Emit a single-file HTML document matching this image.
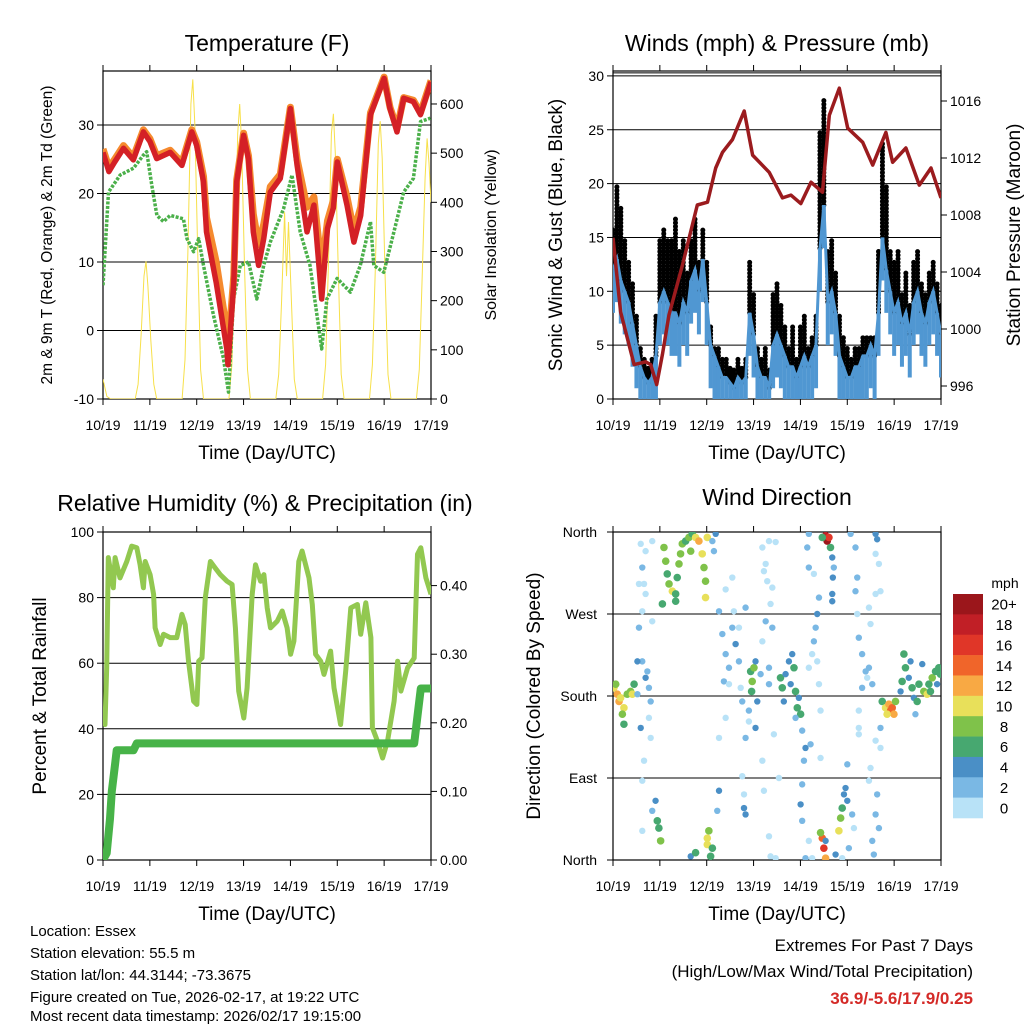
<!DOCTYPE html>
<html><head><meta charset="utf-8"><style>
body{margin:0;background:#fff;}
svg{display:block;font-family:"Liberation Sans",sans-serif;}
</style></head><body>
<svg id="chart" width="1024" height="1024" viewBox="0 0 1024 1024" xmlns="http://www.w3.org/2000/svg">
<defs>
<clipPath id="c1"><rect x="103" y="71" width="328" height="328"/></clipPath>
<clipPath id="c2"><rect x="613" y="71" width="328" height="328"/></clipPath>
<clipPath id="c3"><rect x="103" y="532" width="328" height="328"/></clipPath>
<clipPath id="c4"><rect x="613" y="532" width="328" height="328"/></clipPath>
</defs>
<g id="g1"></g>
<g id="g2"></g>
<g id="g3"></g>
<g id="g4"></g>
<g font-size="23" text-anchor="middle">
<text x="267" y="51">Temperature (F)</text>
<text x="777" y="51">Winds (mph) &amp; Pressure (mb)</text>
<text x="265" y="511">Relative Humidity (%) &amp; Precipitation (in)</text>
<text x="777" y="505">Wind Direction</text>
</g>
<g font-size="19" text-anchor="middle">
<text x="267" y="459">Time (Day/UTC)</text>
<text x="777" y="459">Time (Day/UTC)</text>
<text x="267" y="920">Time (Day/UTC)</text>
<text x="777" y="920">Time (Day/UTC)</text>
</g>
<g text-anchor="middle">
<text transform="translate(52,235) rotate(-90)" font-size="15.5">2m &amp; 9m T (Red, Orange) &amp; 2m Td (Green)</text>
<text transform="translate(496,235) rotate(-90)" font-size="16">Solar Insolation (Yellow)</text>
<text transform="translate(562,235) rotate(-90)" font-size="19">Sonic Wind &amp; Gust (Blue, Black)</text>
<text transform="translate(1020,235) rotate(-90)" font-size="19">Station Pressure (Maroon)</text>
<text transform="translate(46,696) rotate(-90)" font-size="19">Percent &amp; Total Rainfall</text>
<text transform="translate(540,696) rotate(-90)" font-size="19">Direction (Colored By Speed)</text>
</g>
<g font-size="15">
<text x="30" y="936">Location: Essex</text>
<text x="30" y="958">Station elevation: 55.5 m</text>
<text x="30" y="980">Station lat/lon: 44.3144; -73.3675</text>
<text x="30" y="1002">Figure created on Tue, 2026-02-17, at 19:22 UTC</text>
<text x="30" y="1024" dy="-3">Most recent data timestamp: 2026/02/17 19:15:00</text>
</g>
<g text-anchor="end">
<text x="973" y="951" font-size="17">Extremes For Past 7 Days</text>
<text x="973" y="977" font-size="17">(High/Low/Max Wind/Total Precipitation)</text>
<text x="973" y="1004" font-size="17" font-weight="bold" fill="#d42a27">36.9/-5.6/17.9/0.25</text>
</g>
<g id="cbar"></g>
</svg>
<script>
const dayLabels=["10/19","11/19","12/19","13/19","14/19","15/19","16/19","17/19"];
const tempTicks=[-10,0,10,20,30];
const solarTicks=[0,100,200,300,400,500,600];
const windTicks=[0,5,10,15,20,25,30];
const presTicks=[996,1000,1004,1008,1012,1016];
const rhTicks=[0,20,40,60,80,100];
const precTicks=[0,0.1,0.2,0.3,0.4];
const dirTickVals=[0,90,180,270,360];
const dirTickNames=["North","East","South","West","North"];

const redHours=[0,3,6,10.5,15.5,20.7,24,27.5,34.4,40.4,45.5,48,51.5,53,58,63.4,64,67,68.5,72,74.5,77,79.7,82.3,85.7,90.8,96,99.4,104.5,108,112,115,118,120,125,128.5,132,137,144,147,150.6,154,159,162.6,168];
const redTemps=[26,23.2,24.6,26.6,24.9,29,27.6,25.1,26,24.1,29,27,21.7,14.4,7,-2.7,-5,7,21.7,28.5,25,14.4,9.5,13.4,20.2,22.2,32.4,24.1,14.4,18.3,4.6,14.9,17.9,24.6,18.3,12.9,16.8,31.5,36.8,32.4,29,33.9,33.4,31.5,36.3];
const orangeHours=[0,3,6,10.5,15.5,20.7,24,27.5,34.4,40.4,45.5,48,51.5,53,58,63.4,64,67,68.5,72,74.5,77,79.7,82.3,85.7,90.8,96,99.4,104.5,108,112,115,118,120,125,128.5,132,137,144,147,150.6,154,159,162.6,168];
const orangeTemps=[26.5,23.8,25,27,25.3,29.3,28,25.5,26.3,24.5,29.3,27.5,22.5,16.5,10,0,-3,8,22,28.8,25.5,17,12.5,15.5,21,22.8,32.6,25,18,19.5,9,16,19,25,19.5,14.5,18,31.8,37,32.6,29.5,34,33.6,31.8,36.5];
const tdHours=[0,2.8,8.8,15.6,20.7,22.4,25,27.6,31,34.4,41.2,43,46.4,49,51.5,56.6,61.7,64.3,66.9,70.3,74.6,78.8,82.3,85.7,92.5,96.8,101,106,112,114.7,119.9,126.7,131.8,137,138.7,143.8,149,154,159,162.6,167.7];
const tdTemps=[6.6,20.2,22.7,23.7,25.6,26.1,21.2,16.8,15.9,16.8,16.3,13.4,11.5,13.4,9.5,2.2,-4.1,-9,4.6,9.5,10,4.6,9.5,12.9,17.8,22.7,14.4,9.5,-2.7,4.6,7.6,5.6,9.5,15.9,9.5,8.5,14.4,20.2,22.2,30.5,31];
const solarHours=[0,2,4,16.5,18,19.5,21,22,23,24.5,26,27.5,40.5,42,43.5,45,46,47,48.5,50,51.5,64.5,66,67.5,69,70,71,72.5,74,75.5,88.5,90,91.5,93,94,95,96.5,98,99.5,112.5,114,115.5,117,118,119,120.5,122,123.5,136.5,138,139.5,141,142,143,144.5,146,147.5,160.5,162,163.5,165,166,167,168];
const solarVals=[40,5,0,0,30,130,250,280,230,120,30,0,0,80,300,600,650,560,300,60,0,0,70,280,540,600,520,270,60,0,0,50,200,380,250,360,200,40,0,0,70,280,540,580,500,260,50,0,0,70,270,520,565,490,250,50,0,0,60,250,450,530,480,400];

const presHours=[0,3.9,10.8,16.7,19.3,22.4,25.3,28.7,35.6,43.2,48.4,52.6,56.1,61.2,67.2,71.5,80,86.8,91.1,96.2,101.4,107.3,110.8,115.9,120.2,127.9,133,139.8,143.2,150,156.9,162.9,168];
const presVals=[1006.4,1001.2,997.5,997.7,997.5,996.1,998.2,1001,1004.5,1008.7,1008.9,1011.3,1012.4,1013.3,1015.3,1012.2,1011,1009.2,1009.4,1008.8,1010.3,1009.6,1015,1016.9,1014.1,1013.1,1011.5,1013.8,1011.7,1012.7,1010.1,1011.3,1009.2];
const windHours=[0,2,4,6,8,10,12,14,16,18,20,22,24,26,28,30,32,34,36,38,40,42,44,46,48,50,52,54,56,58,60,62,64,66,68,70,72,74,76,78,80,82,84,86,88,90,92,94,96,98,100,102,104,106,108,110,112,114,116,118,120,122,124,126,128,130,132,134,136,138,140,142,144,146,148,150,152,154,156,158,160,162,164,166,168];
const windVals=[12,13,11,10,9,7,5,3,2,1.5,2,4,9,10,9,8,8,7,9,8,11,12,10,13,9,5,4,3,2,2,1.5,1,2,1.5,2,8,6,3,2,2,1,5,6,5,4,3,3,2,3,4,3,4,5,14,18,9,10,8,4,3,2,2,3,3,4,4,5,4,8,15,12,10,8,9,7,8,6,9,10,8,7,9,10,8,6];
const gustVals=[16,20,18,15,13,11,8,5,4,3,4,8,15,16,15,15,17,14,15,12,15,17,13,16,13,7,5,5,4,4,3,3,4,3,4,13,10,5,4,5,3,10,11,9,7,5,7,4,7,8,5,6,8,25,28,14,15,12,8,6,5,4,5,5,6,6,6,6,14,24,20,14,13,14,10,12,9,13,14,11,10,12,13,11,9];

const rhHours=[0,1,1.9,2.7,5.3,6.2,8.7,12.2,14.7,17.3,19,20.7,21.6,24.1,25.9,26.7,29.3,31,34.4,37.8,40.4,42.1,43.8,46.4,48.1,49,50.7,52.4,55,57.5,60.1,63.5,66.1,67.8,69.5,72.1,73.8,76.4,78.1,80.7,82.4,84.1,85.8,89.2,91.8,94.3,96.1,97.8,100.3,102,105.5,107.2,108.9,111.5,113.2,116.6,118.3,121.7,124.3,126.9,130.3,132,134.6,137.2,138,140.6,143.2,145.7,149.1,150.9,152.6,156,159.4,161.1,162.8,165.4,168];
const rhVals=[45.4,41.3,58.6,92.2,83,92.2,86,91,95.7,95.2,90,83,91,87,81,70.8,65.7,68.8,67.8,67.8,74.9,71.8,60.6,48.4,47.4,60.6,61.6,80,91,89,87,85,84,70.8,51.5,43.3,52.5,81,90,85,87,76.9,70.8,72.8,75.9,70.8,62.7,66.7,91,94.2,86,77.9,62.7,60.6,56.6,63.7,52.5,41.3,57.6,76.9,77.9,68.8,78.4,67.8,40.3,36.2,31.1,36.2,48.4,60.6,51.5,58.6,61.6,93.2,95.2,86,81];
const precHours=[0,1.9,3.6,4.5,6.2,7,15.6,17.3,25.9,159.4,161.1,162.8,168];
const precVals=[0,0.01,0.06,0.1,0.14,0.16,0.16,0.17,0.17,0.17,0.21,0.25,0.25];

const dirHours=[0.5,1.4,2.2,3.1,3.9,5.6,7.3,9,10.8,5.6,4.8,9.9,
13.3,15,16.7,12.5,18.4,14.2,18.4,19.3,15.9,15,13.3,15.9,15,14.2,20.1,16.7,20.1,12.5,17.6,19.3,15,16.7,
26.1,27,27.8,28.7,30.4,32.1,32.9,33.8,34.6,35.5,37.2,38.9,40.6,42.3,44,45.7,46.6,47.4,47.4,25.3,32.1,48.3,39.8,
21.8,23.5,24.4,22.7,20.1,15,39.8,42.3,49.1,48.3,50,50.9,48.3,
52.6,50.9,51.7,54.3,56,57.7,59.4,61.1,62.8,64.5,56.8,59.4,64.5,61.9,65.4,54.3,57.7,53.4,54.3,61.1,57.7,66.2,67.9,69.6,67.9,67.1,67.9,66.2,67.1,
70.5,71.3,71,72.2,73,73.9,73,69.6,
76.5,78.2,79.9,81.6,75.6,79.9,80.7,82.4,83.3,79.9,77.3,81.6,76.5,78.2,79,76.5,77.3,80.7,79.9,85,83.3,
85.8,86.7,88.4,90.1,91,92.7,93.5,94.4,96.1,91.8,87.5,93.5,95.2,
96.9,98.6,97.8,96.9,96.1,96.9,100.3,98.6,102,100.3,102,103.8,104.6,105.5,102.9,100.3,99.5,100.3,102.9,104.6,105.5,106.3,106.3,101.2,
108.9,109.7,110.6,111.4,112.3,113.1,112.6,112.3,112.3,107.2,
107.2,108,108.9,106.3,108.9,114,115.7,116.6,117.4,118.3,119.1,120,120,122.5,123.4,117.4,120.8,
121.7,124.2,125.1,124.2,125.1,125.9,127.6,129.4,127.6,125.9,125.9,131.9,131.1,130.2,131.9,131.1,131.1,132.8,132.8,133.6,134.5,135.3,136.2,134.5,135.3,134.5,136.2,134.5,137,
137.9,139.6,141.3,142.2,143,143.9,144.7,140.4,137,134.5,137,125.9,
147.3,149,149.8,151.5,153.2,154.1,154.9,156.7,158.4,159.2,160.9,161.8,163.5,165.2,166.9,162.6,166,167.7,148.1,152.4,155.8];
const dirDegs=[189,193,182,174,178,167,182,185,193,149,160,182,
255,218,200,182,189,145,156,134,109,273,303,303,321,347,350,339,262,218,207,174,87,292,
343,328,314,303,295,292,310,325,336,347,350,354,358,354,350,336,321,306,288,281,284,354,339,
65,35,21,43,54,32,4,8,32,17,4,13,24,
358,350,339,273,248,226,211,255,237,218,196,193,255,273,189,134,156,54,76,310,297,174,277,164,134,57,50,92,72,
207,196,185,211,218,174,145,152,
240,262,211,255,204,193,281,138,349,350,317,299,343,325,306,109,76,4,26,90,2,
200,189,204,218,193,211,185,167,160,226,174,156,178,
142,123,109,83,61,43,21,2,2,211,226,255,270,288,314,321,343,358,240,218,193,164,112,127,
356,350,354,343,332,321,310,292,284,354,
24,13,2,30,21,6,32,46,57,72,79,65,105,50,35,2,13,
358,343,310,295,270,244,226,207,189,164,138,101,87,200,259,277,211,193,21,6,50,72,35,358,352,336,325,292,295,
174,167,171,164,167,160,174,160,145,131,123,145,
185,226,211,200,189,178,160,193,215,185,182,193,200,207,211,185,193,204,196,218,174];
const dirSpeeds=[10,8,13,12,11,10,9,8,6,6,9,10,
2,3,4,3,2,4,1,1,0,1,0,1,2,1,0,0,0,4,3,2,0,0,
8,9,7,8,10,6,7,8,9,8,6,9,7,11,12,10,9,8,10,6,6,10,8,
4,7,9,6,3,1,5,6,9,10,7,7,11,
4,3,2,2,3,3,2,2,4,3,2,1,1,1,1,1,1,2,4,1,1,2,3,3,2,4,4,1,1,
7,8,7,8,5,4,4,1,
1,2,3,3,2,2,1,1,1,1,1,1,1,1,0,0,0,0,0,0,0,
6,7,4,4,5,7,6,7,6,5,5,3,4,
3,4,3,3,4,3,1,2,1,1,1,3,4,2,1,2,2,2,2,1,1,1,1,3,
18,20,16,6,4,3,4,4,4,7,
14,16,13,8,5,4,10,8,7,4,4,4,3,2,1,1,2,
3,2,2,2,1,2,3,3,2,1,1,1,0,1,1,1,2,3,3,3,3,2,2,4,4,1,1,1,0,
7,10,13,15,14,12,9,11,2,1,1,0,
5,6,7,4,7,5,3,6,4,9,10,7,8,6,7,6,4,6,6,5,6];
const speedBinLabels=["0","2","4","6","8","10","12","14","16","18","20+"];
const speedColors=["#b8e2f7","#7ab8e4","#4a8fc6","#47a870","#7fc24a","#e8e05a","#f8a944","#f0652a","#e03628","#c11f26","#9b161b"];

const NS="http://www.w3.org/2000/svg";
function mk(parent,tag,attrs){const e=document.createElementNS(NS,tag);for(const k in attrs)e.setAttribute(k,attrs[k]);parent.appendChild(e);return e;}
function txt(parent,x,y,s,size,anchor){const t=mk(parent,"text",{x:x,y:y,"font-size":size,"text-anchor":anchor});t.textContent=s;return t;}

function panel(g,X0,Y0,clipId){
  const W=328,H=328;
  const xs=h=>X0+h*W/168;
  const frame=mk(g,"rect",{x:X0,y:Y0,width:W,height:H,fill:"none",stroke:"#000","stroke-width":1.2});
  
  
  dayLabels.forEach((d,i)=>{
    const x=xs(i*24);
    mk(g,"line",{x1:x,y1:Y0+H,x2:x,y2:Y0+H+6,stroke:"#000"});
    mk(g,"line",{x1:x,y1:Y0,x2:x,y2:Y0-6,stroke:"#000"});
    const t=txt(g,x,Y0+H+31,d,14,"middle");
    
    
  });
  const data=mk(g,"g",{"clip-path":"url(#"+clipId+")"});
  return {xs,data};
}
function hgrid(g,X0,y){mk(g,"line",{x1:X0,y1:y,x2:X0+328,y2:y,stroke:"#000","stroke-width":1});}
function leftTicks(g,X0,vals,ys,fmt){vals.forEach(v=>{const y=ys(v);mk(g,"line",{x1:X0,y1:y,x2:X0-6,y2:y,stroke:"#000"});const t=txt(g,X0-9,y+5,fmt(v),14,"end");});}
function rightTicks(g,X1,vals,ys,fmt){vals.forEach(v=>{const y=ys(v);mk(g,"line",{x1:X1,y1:y,x2:X1+6,y2:y,stroke:"#000"});const t=txt(g,X1+9,y+5,fmt(v),14,"start");});}
function pts(hs,vs,xs,ys){return hs.map((h,i)=>xs(h).toFixed(1)+","+ys(vs[i]).toFixed(1)).join(" ");}

// Panel 1
(function(){
  const g=document.getElementById("g1");
  const yT=t=>399-(t+10)*6.85, yS=s=>399-s*0.4917;
  [0,10,20,30].forEach(v=>hgrid(g,103,yT(v)));
  const p=panel(g,103,71,"c1");
  const sl=mk(p.data,"polyline",{points:pts(solarHours,solarVals,p.xs,yS),fill:"none",stroke:"#f7e04a","stroke-width":1});
  
  
  const td=mk(p.data,"polyline",{points:pts(tdHours,tdTemps,p.xs,yT),fill:"none",stroke:"#4bb04a","stroke-width":3.5,"stroke-dasharray":"3 1.5","stroke-linejoin":"round"});
  
  
  const or=mk(p.data,"polyline",{points:pts(orangeHours,orangeTemps,p.xs,yT),fill:"none",stroke:"#f58a2e","stroke-width":7,"stroke-linejoin":"round"});
  
  
  const rd=mk(p.data,"polyline",{points:pts(redHours,redTemps,p.xs,yT),fill:"none",stroke:"#d42026","stroke-width":5.5,"stroke-linejoin":"round"});
  
  
  leftTicks(g,103,tempTicks,yT,v=>String(v));
  rightTicks(g,431,solarTicks,yS,v=>String(v));
})();

// Panel 2
(function(){
  const g=document.getElementById("g2");
  const yW=w=>399-w*10.77, yP=v=>329-(v-1000)*14.25;
  [5,10,15,20,25].forEach(v=>hgrid(g,613,yW(v)));
  hgrid(g,613,yW(30)); hgrid(g,613,yW(30)-3);
  const p=panel(g,613,71,"c2");
  windHours.forEach((h,i)=>{
    const x=p.xs(h);
    const gl=mk(p.data,"line",{x1:x,y1:yW(windVals[i]),x2:x,y2:yW(gustVals[i]),stroke:"#000","stroke-width":5,"stroke-linecap":"round","stroke-dasharray":"0.1 3.5"});
    
    
  });
  windHours.forEach((h,i)=>{
    const x=p.xs(h);
    const wl=mk(p.data,"line",{x1:x,y1:yW(Math.max(0,windVals[i]-4)),x2:x,y2:yW(windVals[i]),stroke:"#5097d2","stroke-width":4});
    
    
  });
  const wp=mk(p.data,"polyline",{points:pts(windHours,windVals,p.xs,yW),fill:"none",stroke:"#5097d2","stroke-width":3});
  
  
  const pl=mk(p.data,"polyline",{points:pts(presHours,presVals,p.xs,yP),fill:"none",stroke:"#9b1b1e","stroke-width":3.5,"stroke-linejoin":"round"});
  
  
  leftTicks(g,613,windTicks,yW,v=>String(v));
  rightTicks(g,941,presTicks,yP,v=>String(v));
})();

// Panel 3
(function(){
  const g=document.getElementById("g3");
  const yR=r=>860-r*3.28, yPr=v=>860-v*686;
  [20,40,60,80].forEach(v=>hgrid(g,103,yR(v)));
  const p=panel(g,103,532,"c3");
  const rl=mk(p.data,"polyline",{points:pts(rhHours,rhVals,p.xs,yR),fill:"none",stroke:"#92c850","stroke-width":5,"stroke-linejoin":"round"});
  
  
  const pr=mk(p.data,"polyline",{points:pts(precHours,precVals,p.xs,yPr),fill:"none",stroke:"#47b348","stroke-width":8,"stroke-linejoin":"round"});
  
  
  leftTicks(g,103,rhTicks,yR,v=>String(v));
  rightTicks(g,431,precTicks,yPr,v=>v.toFixed(2));
})();

// Panel 4
(function(){
  const g=document.getElementById("g4");
  const yD=d=>860-d*328/360;
  [90,180,270].forEach(v=>hgrid(g,613,yD(v)));
  const p=panel(g,613,532,"c4");
  dirHours.forEach((h,i)=>{
    const s=dirSpeeds[i];
    const bin=Math.min(10,Math.floor(s/2));
    const c=mk(p.data,"circle",{cx:p.xs(h),cy:yD(dirDegs[i]),r:s>=6?3.8:3.2,fill:speedColors[bin]});
    
    
  });
  dirTickVals.forEach((v,i)=>{const y=yD(v);mk(g,"line",{x1:613,y1:y,x2:607,y2:y,stroke:"#000"});const t=txt(g,597,y+5,dirTickNames[i],14,"end");});
  const cb=document.getElementById("cbar");
  const m=txt(cb,1005,588,"mph",14,"middle");
  
  
  const bh=224/11;
  speedColors.forEach((c,i)=>{
    const k=10-i;
    const y=594+i*bh;
    const r=mk(cb,"rect",{x:953,y:y,width:30,height:bh+0.3,fill:speedColors[k]});
    
    
    const t=txt(cb,1004,y+bh/2+5.5,speedBinLabels[k],15,"middle");
    
    
  });
})();
</script>
</body></html>
